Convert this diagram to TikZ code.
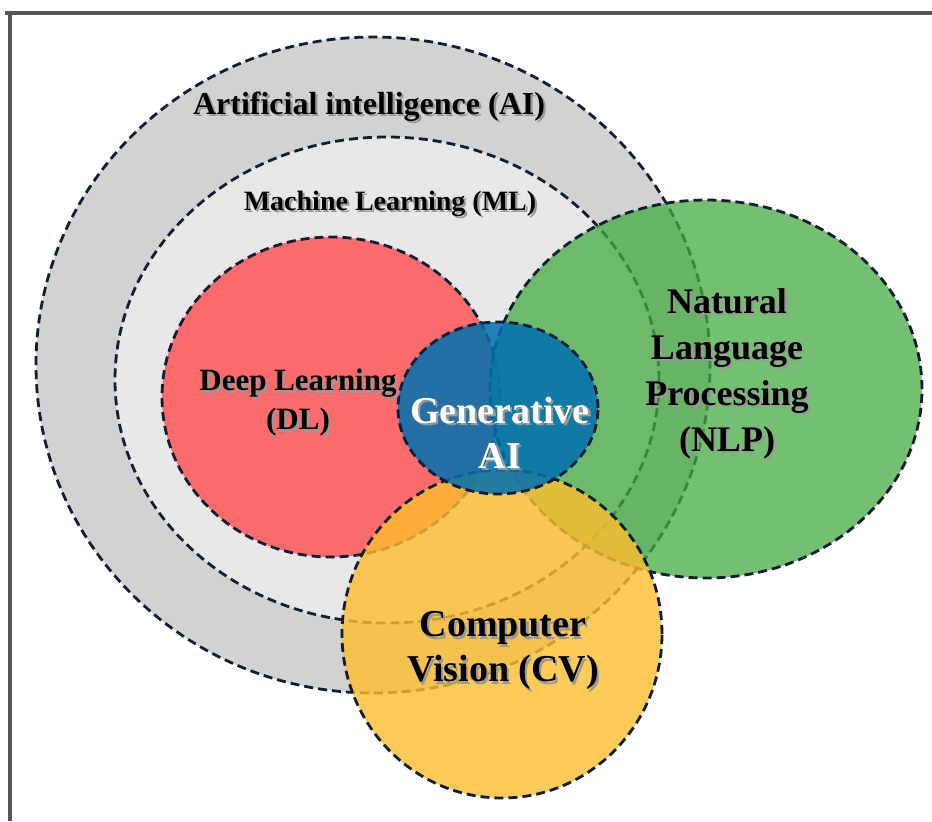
\documentclass[tikz,border=0pt]{standalone}
\usepackage{fontspec}
\setmainfont{Liberation Serif}
\usepackage{xcolor}
\usepackage{tikz}
\usetikzlibrary{positioning}
\definecolor{ringline}{HTML}{0F1E36}
\definecolor{aigray}{HTML}{D2D2D2}
\definecolor{mlgray}{HTML}{E8E8E8}
\definecolor{dlred}{HTML}{FB6B6B}
\definecolor{nlpgreen}{HTML}{44AB40}
\definecolor{cvyellow}{HTML}{FFBE2E}
\definecolor{genblue}{HTML}{0070B0}
\definecolor{framegray}{HTML}{555555}
% text with a soft drop shadow behind it
\newcommand{\shadowed}[1]{\makebox[0pt][l]{\hspace{1.1pt}\raisebox{-1.1pt}{\color{black!40}#1}}#1}
\tikzset{
  ring/.style={draw=ringline,line width=1.4pt,dash pattern=on 4.5pt off 2.5pt},
  ringlabel/.style={align=center,inner sep=0pt},
  framerule/.style={draw=framegray,line width=1.6pt}
}

\begin{document}
\begin{tikzpicture}[x=0.5pt,y=-0.5pt]
  \useasboundingbox (0,0) rectangle (932,821);
  \draw[framerule] (5,13) -- (932,13);
  \draw[framerule] (10,13) -- (10,821);
  % nested fields, then the overlapping ones
  \draw[ring,fill=aigray] (373,365) ellipse [x radius=168.5pt,y radius=164pt];
  \draw[ring,fill=mlgray] (387,380) ellipse [x radius=136pt,y radius=121.5pt];
  \draw[ring,fill=dlred] (331,397) ellipse [x radius=84.5pt,y radius=80pt];
  \draw[ring,fill=nlpgreen,fill opacity=0.75] (706,389) ellipse [x radius=108pt,y radius=94.5pt];
  \draw[ring,fill=cvyellow,fill opacity=0.8] (502,634) ellipse [x radius=80pt,y radius=82pt];
  \draw[ring,fill=genblue,fill opacity=0.86] (498,408) ellipse [x radius=50pt,y radius=43pt];
  \node[ringlabel,font=\bfseries\fontsize{16}{19}\selectfont] (ai) at (369,108) {\shadowed{Artificial intelligence (AI)}};
  \node[ringlabel,font=\bfseries\fontsize{14}{17}\selectfont] (ml) at (390,205) {\shadowed{Machine Learning (ML)}};
  \node[ringlabel,font=\bfseries\fontsize{15.5}{19.5}\selectfont] (dl) at (298,404) {\shadowed{Deep Learning}\\\shadowed{(DL)}};
  \node[ringlabel,text=white,font=\bfseries\fontsize{19}{22.5}\selectfont] (gen) at (500,434) {\shadowed{Generative}\\\shadowed{AI}};
  \node[ringlabel,font=\bfseries\fontsize{18}{23}\selectfont] (nlp) at (727,375) {\shadowed{Natural}\\\shadowed{Language}\\\shadowed{Processing}\\\shadowed{(NLP)}};
  \node[ringlabel,font=\bfseries\fontsize{19}{22.5}\selectfont] (cv) at (503,652) {\shadowed{Computer}\\\shadowed{Vision (CV)}};
\end{tikzpicture}
\end{document}
